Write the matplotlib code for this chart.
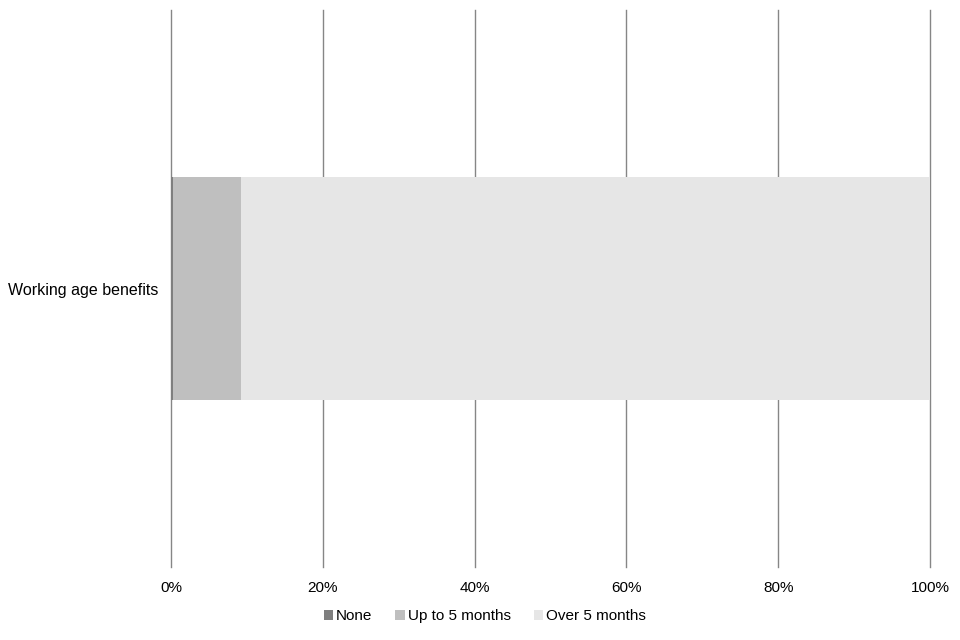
import matplotlib
matplotlib.use("Agg")
import matplotlib.pyplot as plt
from matplotlib.ticker import FuncFormatter

plt.rcParams['font.family'] = ['Liberation Sans', 'DejaVu Sans']

categories = ["Working age benefits"]
series_names = ["None", "Up to 5 months", "Over 5 months"]
none_vals = [0.3]
upto5_vals = [8.9]
over5_vals = [90.8]
colors = ["#7f7f7f", "#bfbfbf", "#e6e6e6"]
xticks = [0, 20, 40, 60, 80, 100]

fig = plt.figure(figsize=(9.6, 6.4), dpi=100)
ax = fig.add_axes([0.178, 0.114, 0.791, 0.870])

left = [0.0] * len(categories)
for name, vals, c in zip(series_names, [none_vals, upto5_vals, over5_vals], colors):
    ax.barh(categories, vals, left=left, height=0.4, color=c, label=name, zorder=3)
    left = [l + v for l, v in zip(left, vals)]

ax.set_xlim(0, 100)
ax.set_ylim(-0.5, 0.5)
ax.set_xticks(xticks)
ax.xaxis.set_major_formatter(FuncFormatter(lambda v, p: f"{int(v)}%"))
ax.grid(axis='x', color='#868686', linewidth=1, zorder=0)
for gl in ax.get_xgridlines():
    gl.set_clip_on(False)
for s in ax.spines.values():
    s.set_visible(False)
ax.tick_params(axis='both', length=0, labelsize=11, colors='#000000')
ax.tick_params(axis='y', labelsize=11.5, pad=9)
ax.tick_params(axis='x', pad=10)

leg = fig.legend(loc='center', bbox_to_anchor=(0.505, 0.037), ncol=3, frameon=False,
                 fontsize=11, handlelength=0.6, handleheight=0.6, handletextpad=0.2,
                 columnspacing=1.5)

fig.savefig("out.png", dpi=100)
